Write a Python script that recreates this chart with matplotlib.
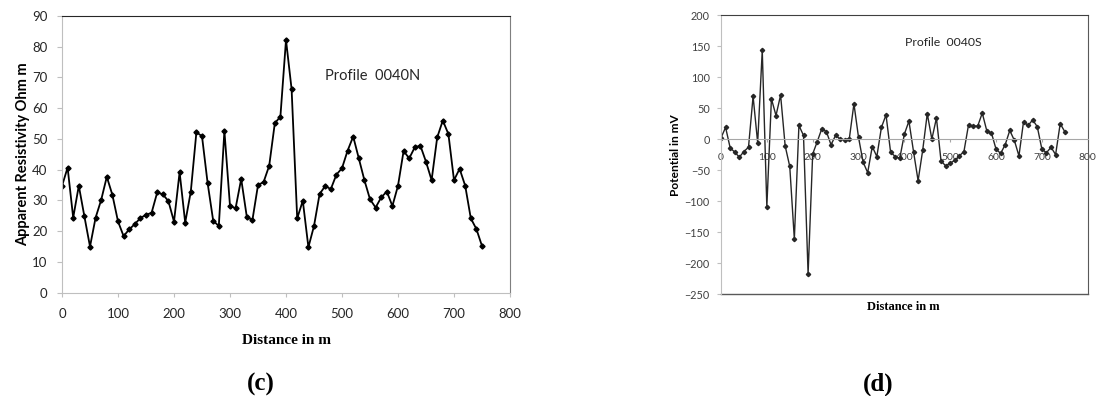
# =====================================================================
# IMPORTS
# =====================================================================
import matplotlib
matplotlib.use('Agg')
import matplotlib.pyplot as plt

SANS  = ['Lato', 'DejaVu Sans']
SERIF = ['Liberation Serif', 'DejaVu Serif']

# =====================================================================
# DATEN (Messpunkte alle 10 m)
# =====================================================================
distance = list(range(0, 760, 10))

# Profil 0040N - scheinbarer spezifischer Widerstand (Ohm m)
resistivity_0040N = [
    34.7, 40.7, 24.4, 34.8, 24.8, 15.0, 24.4, 30.2, 37.7, 31.8,
    23.2, 18.4, 20.6, 22.3, 24.3, 25.3, 26.0, 32.6, 32.0, 29.8,
    23.1, 39.2, 22.8, 32.9, 52.2, 50.9, 35.7, 23.4, 21.7, 52.6,
    28.2, 27.5, 37.0, 24.7, 23.6, 35.0, 36.0, 41.3, 55.1, 57.3,
    82.2, 66.2, 24.2, 29.9, 14.8, 21.7, 32.1, 34.7, 33.7, 38.4,
    40.5, 46.2, 50.8, 43.7, 36.6, 30.4, 27.7, 31.0, 32.9, 28.2,
    34.8, 46.1, 43.7, 47.3, 47.8, 42.6, 36.6, 50.5, 56.0, 51.6,
    36.6, 40.3, 34.8, 24.2, 20.7, 15.2,
]

# Profil 0040S - Eigenpotential (mV)
potential_0040S = [
    2, 19, -14, -21, -29, -20, -13, 69, -6, 143,
    -109, 65, 38, 71, -11, -44, -161, 22, 6, -217,
    -24, -4, 17, 12, -9, 6, 0, -1, 1, 57,
    3, -37, -54, -12, -28, 19, 39, -21, -28, -31,
    8, 29, -20, -67, -18, 41, 0, 34, -35, -43,
    -39, -34, -27, -20, 23, 21, 21, 42, 13, 10,
    -16, -23, -9, 14, -2, -27, 28, 22, 31, 20,
    -16, -22, -13, -25, 25, 12,
]

xticks       = list(range(0, 900, 100))
yticks_left  = list(range(0, 100, 10))
yticks_right = list(range(-250, 250, 50))


# =====================================================================
# PLOT-HELPER
# =====================================================================
def plotResistivity(ax):
    ax.plot(distance, resistivity_0040N, color='black', lw=1.3,
            marker='D', markersize=2.6)
    ax.set_xlim(xticks[0], xticks[-1])
    ax.set_ylim(yticks_left[0], yticks_left[-1])
    ax.set_xticks(xticks)
    ax.set_yticks(yticks_left)
    for side in ('left', 'bottom'):
        ax.spines[side].set_color('#bfbfbf')
    ax.spines['top'].set_color('#262626')
    ax.spines['right'].set_color('#7f7f7f')
    ax.tick_params(axis='x', length=3, pad=8, color='#bfbfbf', labelsize=9.5)
    ax.tick_params(axis='y', length=3.5, pad=7, color='#bfbfbf', labelsize=9.5)
    for lab in ax.get_xticklabels() + ax.get_yticklabels():
        lab.set_family(SANS)
        lab.set_color('#262626')
    ax.text(470, 70.5, 'Profile  0040N', fontsize=10.5, family=SANS,
            va='center', color='#262626')


def plotPotential(ax):
    ax.plot(distance, potential_0040S, color='#262626', lw=1.0,
            marker='D', markersize=2.2)
    ax.set_xlim(xticks[0], xticks[-1])
    ax.set_ylim(yticks_right[0], yticks_right[-1])
    ax.set_xticks(xticks)
    ax.set_yticks(yticks_right)
    # x-Achse liegt bei 0 mV, Rahmen unten separat
    ax.spines['bottom'].set_position(('data', 0))
    ax.spines['bottom'].set_color('#a6a6a6')
    ax.spines['left'].set_color('#bfbfbf')
    ax.spines['top'].set_color('#404040')
    ax.spines['right'].set_color('#595959')
    ax.axhline(yticks_right[0], color='#595959', lw=1.0, clip_on=False)
    ax.tick_params(axis='x', length=2, pad=8, color='#a6a6a6', labelsize=7.5)
    ax.tick_params(axis='y', length=3, pad=5, color='#bfbfbf', labelsize=7.8)
    for lab in ax.get_xticklabels() + ax.get_yticklabels():
        lab.set_family(SANS)
        lab.set_color('#404040')
    ax.text(402, 155, 'Profile  0040S', fontsize=8.8, family=SANS,
            va='center', color='#262626')


# =====================================================================
# AUSFÜHRUNG
# =====================================================================
W, H = 1096, 396
fig = plt.figure(figsize=(W / 100, H / 100), dpi=100)

def px(x, y):
    return x / W, 1 - y / H

ax1 = fig.add_axes([62 / W, 1 - 292.7 / H, (510 - 62) / W, (292.7 - 16) / H])
ax2 = fig.add_axes([721 / W, 1 - 294.3 / H, (1087.7 - 721) / W, (294.3 - 15) / H])

plotResistivity(ax1)
plotPotential(ax2)

fig.text(*px(23.5, 154), 'Apparent Resistivity Ohm m', rotation=90,
         ha='center', va='center', fontsize=10.5, fontweight='bold', family=SANS)
fig.text(*px(675.5, 155), 'Potential in mV', rotation=90,
         ha='center', va='center', fontsize=8.6, fontweight='bold', family=SANS)

fig.text(*px(286, 340), 'Distance in m', ha='center', va='center',
         fontsize=11, fontweight='bold', family=SERIF)
fig.text(*px(903, 306.5), 'Distance in m', ha='center', va='center',
         fontsize=9, fontweight='bold', family=SERIF)

fig.text(*px(261, 384), '(c)', ha='center', va='center',
         fontsize=18, fontweight='bold', family=SERIF)
fig.text(*px(878, 384), '(d)', ha='center', va='center',
         fontsize=18, fontweight='bold', family=SERIF)

fig.savefig('out.png', dpi=100)
